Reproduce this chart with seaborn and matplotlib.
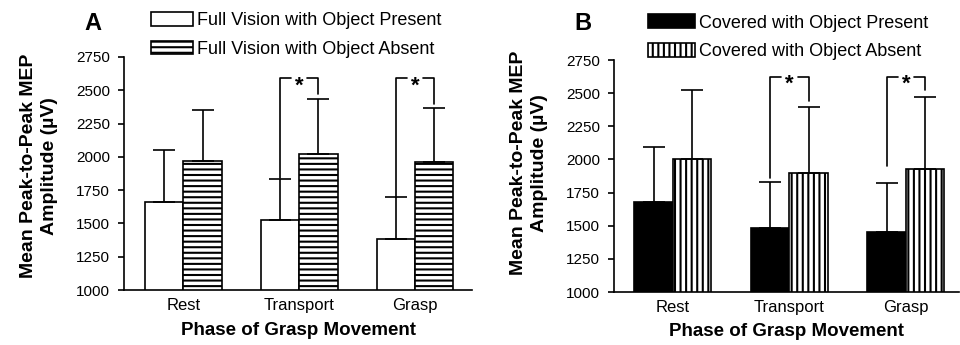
import matplotlib
matplotlib.use('Agg')
import matplotlib.pyplot as plt
import seaborn as sns
import numpy as np
import pandas as pd

# data
phases = ['Rest', 'Transport', 'Grasp']

a_labels = ['Full Vision with Object Present', 'Full Vision with Object Absent']
a_present = [1664, 1523, 1382]
a_absent = [1971, 2023, 1960]
a_present_sd = [384, 312, 314]
a_absent_sd = [379, 410, 405]

b_labels = ['Covered with Object Present', 'Covered with Object Absent']
b_present = [1680, 1482, 1449]
b_absent = [2006, 1901, 1929]
b_present_sd = [415, 351, 374]
b_absent_sd = [516, 495, 545]

# significance brackets (Transport, Grasp)
sig_phases = ['Transport', 'Grasp']
a_bracket_top = [2589, 2589]
a_left_end = [1840, 1700]
a_right_end = [2470, 2400]
b_bracket_top = [2624, 2624]
b_left_end = [1863, 1954]
b_right_end = [2443, 2524]

yticks = [1000, 1250, 1500, 1750, 2000, 2250, 2500, 2750]

sns.set_style('ticks')
plt.rcParams['font.family'] = ['Liberation Sans', 'DejaVu Sans']
plt.rcParams['text.color'] = 'black'
plt.rcParams['axes.labelcolor'] = 'black'
plt.rcParams['xtick.color'] = 'black'
plt.rcParams['ytick.color'] = 'black'
plt.rcParams['axes.edgecolor'] = 'black'
plt.rcParams['hatch.linewidth'] = 1.5


def draw_panel(ax, labels, present, absent, present_sd, absent_sd, colors, hatches,
               br_top, br_left, br_right, xlim, leg_anchor, handlelength):
    df = pd.DataFrame({
        'phase': phases * 2,
        'cond': [labels[0]] * 3 + [labels[1]] * 3,
        'amp': present + absent,
    })
    sns.barplot(data=df, x='phase', y='amp', hue='cond', order=phases, hue_order=labels,
                palette=dict(zip(labels, colors)), saturation=1, width=0.662,
                edgecolor='black', linewidth=1.2, errorbar=None, legend=False, ax=ax)
    bars = list(ax.containers)
    for cont, h in zip(bars, hatches):
        for p in cont:
            p.set_hatch(h)

    # one-sided error bars
    for cont, sd in zip(bars, [present_sd, absent_sd]):
        xs = [p.get_x() + p.get_width() / 2 for p in cont]
        ys = [p.get_height() for p in cont]
        ax.errorbar(xs, ys, yerr=[np.zeros(len(sd)), sd], fmt='none', ecolor='black',
                    elinewidth=1.2, capsize=8, capthick=1.2, zorder=3)

    # brackets with stars
    for ph, top, le, re in zip(sig_phases, br_top, br_left, br_right):
        i = phases.index(ph)
        pl = bars[0][i]
        pr = bars[1][i]
        xl = pl.get_x() + pl.get_width() / 2
        xr = pr.get_x() + pr.get_width() / 2
        gc = (xl + xr) / 2
        gap = 0.07
        ax.plot([xl, xl, gc - gap], [le, top, top], color='black', lw=1.2, clip_on=False)
        ax.plot([gc + gap, xr, xr], [top, top, re], color='black', lw=1.2, clip_on=False)
        ax.annotate('*', xy=(gc, top), xytext=(0, -9.3), textcoords='offset points',
                    ha='center', va='baseline', fontsize=16, fontweight='bold')

    ax.set_xlim(*xlim)
    ax.set_ylim(1000, 2750)
    ax.set_yticks(yticks)
    ax.tick_params(axis='y', direction='out', length=4, width=1.2, pad=6, labelsize=11)
    ax.tick_params(axis='x', length=0, pad=6, labelsize=12)
    sns.despine(ax=ax)
    for s in ['left', 'bottom']:
        ax.spines[s].set_linewidth(1.2)

    ax.set_ylabel('Mean Peak-to-Peak MEP\nAmplitude (\u00b5V)', fontsize=14,
                  fontweight='bold', linespacing=1.3)
    ax.set_xlabel('Phase of Grasp Movement', fontsize=13.5, fontweight='bold')

    ax.legend(handles=bars, labels=labels, loc='upper left', bbox_to_anchor=leg_anchor,
              bbox_transform=ax.figure.transFigure, frameon=False, fontsize=13,
              handlelength=handlelength, handleheight=0.77, handletextpad=0.2,
              labelspacing=0.65, borderpad=0, borderaxespad=0)


fig = plt.figure(figsize=(9.6, 3.45), dpi=100)
axA = fig.add_axes([0.1292, 0.1594, 0.3625, 0.6754])
axB = fig.add_axes([0.6396, 0.1536, 0.3594, 0.6724])

draw_panel(axA, a_labels, a_present, a_absent, a_present_sd, a_absent_sd,
           ['white', 'white'], ['', '---'], a_bracket_top, a_left_end, a_right_end,
           (-0.512, 2.492), (151 / 960, 0.965), 2.35)
draw_panel(axB, b_labels, b_present, b_absent, b_present_sd, b_absent_sd,
           ['black', 'white'], ['', '|||'], b_bracket_top, b_left_end, b_right_end,
           (-0.506, 2.457), (648 / 960, 0.958), 2.6)

axA.yaxis.set_label_coords(-0.19, 0.534)
axA.xaxis.set_label_coords(0.5, -0.138)
axB.yaxis.set_label_coords(-0.192, 0.557)
axB.xaxis.set_label_coords(0.5, -0.132)

fig.text(92.5 / 960, 1 - 23.5 / 345, 'A', fontsize=17, fontweight='bold', ha='center', va='center')
fig.text(582.5 / 960, 1 - 23 / 345, 'B', fontsize=17, fontweight='bold', ha='center', va='center')

fig.savefig('out.png', dpi=100)
